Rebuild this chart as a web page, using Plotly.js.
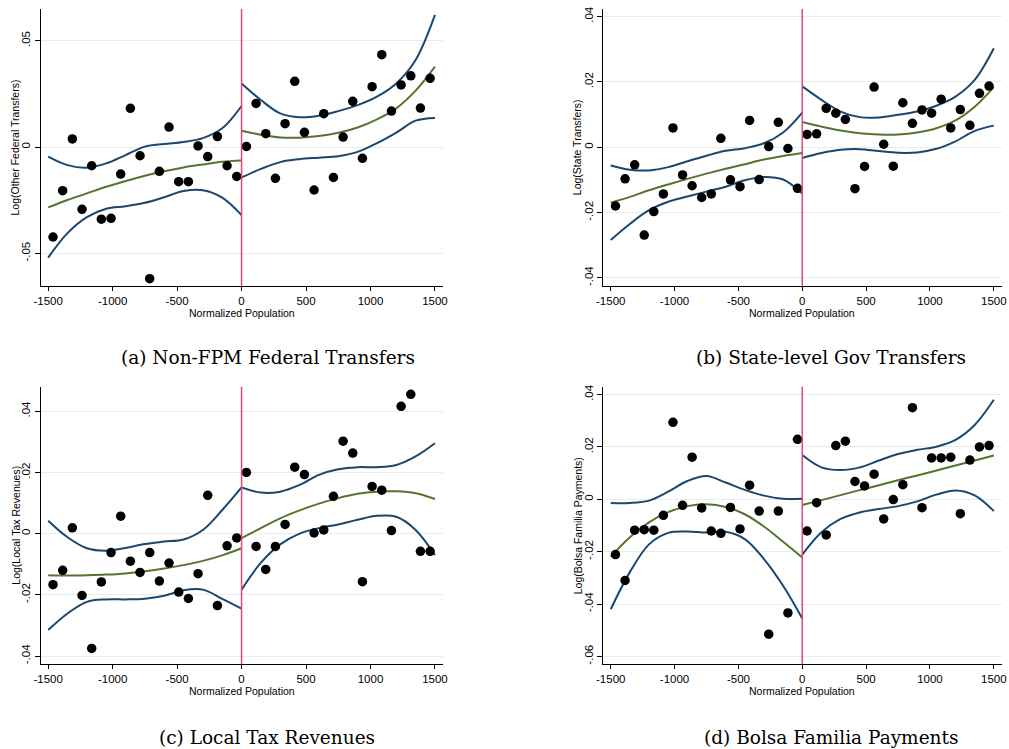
<!DOCTYPE html>
<html>
<head>
<meta charset="utf-8">
<script src="https://cdn.plot.ly/plotly-3.0.1.min.js"></script>
<style>html,body{margin:0;padding:0;background:#fff;}#chart{width:1009px;height:749px;}</style>
</head>
<body>
<div id="chart"></div>
<script>
// ---- bins (x) ----
const xBinsLeft = [-1462.5,-1387.5,-1312.5,-1237.5,-1162.5,-1087.5,-1012.5,-937.5,-862.5,-787.5,-712.5,-637.5,-562.5,-487.5,-412.5,-337.5,-262.5,-187.5,-112.5,-37.5];
const xBinsRight = [37.5,112.5,187.5,262.5,337.5,412.5,487.5,562.5,637.5,712.5,787.5,862.5,937.5,1012.5,1087.5,1162.5,1237.5,1312.5,1387.5,1462.5];
const xFitLeft = [-1500,-1350,-1200,-1050,-900,-750,-600,-450,-300,-150,0];
const xFitRight = [0,150,300,450,600,750,900,1050,1200,1350,1500];
const cutoff = 0;

// ---- (a) Non-FPM Federal Transfers ----
const aPtsLeft  = [-0.0423,-0.0205,0.0038,-0.0293,-0.0088,-0.0339,-0.0335,-0.0127,0.0182,-0.0041,-0.0619,-0.0114,0.0094,-0.0163,-0.0163,0.0005,-0.0045,0.0049,-0.0088,-0.0138];
const aPtsRight = [0.0003,0.0205,0.0063,-0.0147,0.0110,0.0309,0.0069,-0.0202,0.0157,-0.0143,0.0047,0.0215,-0.0053,0.0284,0.0434,0.0169,0.0292,0.0335,0.0183,0.0323];
const aFitLeft  = [-0.0284,-0.0249,-0.0218,-0.0187,-0.0160,-0.0135,-0.0114,-0.0096,-0.0082,-0.0069,-0.0063];
const aUpLeft   = [-0.0045,-0.0085,-0.0097,-0.0077,-0.0038,0.0002,0.0014,0.0024,0.0042,0.0088,0.0193];
const aLoLeft   = [-0.0520,-0.0405,-0.0330,-0.0290,-0.0278,-0.0262,-0.0236,-0.0207,-0.0203,-0.0238,-0.0320];
const aFitRight = [0.0077,0.0058,0.0045,0.0044,0.0052,0.0067,0.0092,0.0130,0.0182,0.0265,0.0378];
const aUpRight  = [0.0299,0.0221,0.0158,0.0140,0.0147,0.0169,0.0197,0.0237,0.0299,0.0409,0.0621];
const aLoRight  = [-0.0143,-0.0103,-0.0071,-0.0057,-0.0050,-0.0043,-0.0023,0.0018,0.0068,0.0124,0.0137];

// ---- (b) State-level Gov Transfers ----
const bPtsLeft  = [-0.0180,-0.0097,-0.0054,-0.0269,-0.0197,-0.0143,0.0059,-0.0085,-0.0118,-0.0154,-0.0143,0.0027,-0.0100,-0.0121,0.0082,-0.0099,0.0002,0.0076,-0.0004,-0.0126];
const bPtsRight = [0.0039,0.0041,0.0119,0.0104,0.0085,-0.0127,-0.0059,0.0184,0.0009,-0.0058,0.0136,0.0073,0.0114,0.0104,0.0147,0.0059,0.0115,0.0067,0.0165,0.0187];
const bFitLeft  = [-0.0170,-0.0152,-0.0132,-0.0114,-0.0097,-0.0081,-0.0066,-0.0052,-0.0038,-0.0027,-0.0018];
const bUpLeft   = [-0.0056,-0.0069,-0.0071,-0.0061,-0.0043,-0.0026,-0.0011,-0.0003,0.0012,0.0045,0.0106];
const bLoLeft   = [-0.0284,-0.0235,-0.0193,-0.0167,-0.0151,-0.0136,-0.0121,-0.0101,-0.0091,-0.0099,-0.0142];
const bFitRight = [0.0077,0.0063,0.0051,0.0043,0.0039,0.0039,0.0045,0.0058,0.0082,0.0124,0.0184];
const bUpRight  = [0.0186,0.0145,0.0109,0.0092,0.0091,0.0099,0.0109,0.0127,0.0155,0.0206,0.0303];
const bLoRight  = [-0.0033,-0.0018,-0.0008,-0.0006,-0.0012,-0.0017,-0.0016,-0.0005,0.0018,0.0050,0.0066];

// ---- (c) Local Tax Revenues ----
const cPtsLeft  = [-0.0167,-0.0120,0.0019,-0.0202,-0.0375,-0.0158,-0.0062,0.0057,-0.0090,-0.0127,-0.0062,-0.0155,-0.0096,-0.0191,-0.0212,-0.0131,0.0125,-0.0235,-0.0040,-0.0014];
const cPtsRight = [0.0200,-0.0042,-0.0117,-0.0042,0.0030,0.0217,0.0193,0.0002,0.0012,0.0122,0.0302,0.0263,-0.0157,0.0154,0.0142,0.0010,0.0416,0.0455,-0.0058,-0.0058];
const cFitLeft  = [-0.0136,-0.0137,-0.0136,-0.0134,-0.0130,-0.0123,-0.0114,-0.0103,-0.0089,-0.0071,-0.0048];
const cUpLeft   = [0.0042,-0.0012,-0.0048,-0.0056,-0.0047,-0.0034,-0.0026,-0.0019,0.0012,0.0077,0.0151];
const cLoLeft   = [-0.0315,-0.0261,-0.0223,-0.0215,-0.0215,-0.0213,-0.0203,-0.0185,-0.0183,-0.0213,-0.0245];
const cFitRight = [-0.0015,0.0018,0.0050,0.0076,0.0098,0.0116,0.0130,0.0137,0.0138,0.0132,0.0113];
const cUpRight  = [0.0151,0.0134,0.0137,0.0159,0.0192,0.0210,0.0217,0.0217,0.0224,0.0252,0.0295];
const cLoRight  = [-0.0183,-0.0095,-0.0035,0.0000,0.0018,0.0030,0.0045,0.0058,0.0055,0.0012,-0.0070];

// ---- (d) Bolsa Familia Payments ----
const dPtsLeft  = [-0.0211,-0.0310,-0.0118,-0.0116,-0.0118,-0.0061,0.0294,-0.0023,0.0161,-0.0033,-0.0121,-0.0130,-0.0031,-0.0113,0.0054,-0.0045,-0.0515,-0.0045,-0.0434,0.0229];
const dPtsRight = [-0.0121,-0.0013,-0.0136,0.0205,0.0222,0.0068,0.0051,0.0096,-0.0075,-0.0001,0.0056,0.0350,-0.0032,0.0158,0.0158,0.0161,-0.0055,0.0150,0.0200,0.0205];
const dFitLeft  = [-0.0219,-0.0145,-0.0088,-0.0049,-0.0026,-0.0019,-0.0029,-0.0057,-0.0104,-0.0162,-0.0222];
const dUpLeft   = [-0.0014,-0.0014,-0.0005,0.0029,0.0070,0.0089,0.0064,0.0036,0.0014,0.0002,0.0002];
const dLoLeft   = [-0.0420,-0.0278,-0.0172,-0.0128,-0.0123,-0.0127,-0.0124,-0.0152,-0.0228,-0.0330,-0.0455];
const dFitRight = [-0.0022,-0.0003,0.0016,0.0035,0.0054,0.0073,0.0091,0.0110,0.0129,0.0148,0.0167];
const dUpRight  = [0.0169,0.0122,0.0112,0.0122,0.0148,0.0173,0.0189,0.0201,0.0227,0.0284,0.0380];
const dLoRight  = [-0.0211,-0.0126,-0.0075,-0.0050,-0.0037,-0.0026,-0.0008,0.0018,0.0034,0.0015,-0.0045];

// ---- labels ----
const xTickVals = [-1500,-1000,-500,0,500,1000,1500];
const xTickText = ["-1500","-1000","-500","0","500","1000","1500"];
const xTitle = "Normalized Population";
const yTitles = ["Log(Other Federal Transfers)","Log(State Transfers)","Log(Local Tax Revenues)","Log(Bolsa Familia Payments)"];
const captions = ["(a) Non-FPM Federal Transfers","(b) State-level Gov Transfers","(c) Local Tax Revenues","(d) Bolsa Familia Payments"];
const yTickValsA = [-0.05,0,0.05], yTickTextA = ["-.05","0",".05"];
const yTickValsB = [-0.04,-0.02,0,0.02,0.04], yTickTextB = ["-.04","-.02","0",".02",".04"];
const yTickValsC = [-0.04,-0.02,0,0.02,0.04], yTickTextC = ["-.04","-.02","0",".02",".04"];
const yTickValsD = [-0.06,-0.04,-0.02,0,0.02,0.04], yTickTextD = ["-.06","-.04","-.02","0",".02",".04"];

// ---- styling ----
const NAVY = "#1a476f", GREEN = "#55752f", RED = "#e5467a";
const SANS = "Liberation Sans, Arial, Helvetica, sans-serif";
const W = 1009, H = 749;

const panels = [
  {ax:"", pl:aPtsLeft, pr:aPtsRight, fl:aFitLeft, ul:aUpLeft, ll:aLoLeft, fr:aFitRight, ur:aUpRight, lr:aLoRight,
   xd:[40.7,442.7], yd:[9,285.7], yr:[-0.0652,0.0649], tv:yTickValsA, tt:yTickTextA},
  {ax:"2", pl:bPtsLeft, pr:bPtsRight, fl:bFitLeft, ul:bUpLeft, ll:bLoLeft, fr:bFitRight, ur:bUpRight, lr:bLoRight,
   xd:[603.3,1001.5], yd:[9,285.7], yr:[-0.0424,0.0423], tv:yTickValsB, tt:yTickTextB},
  {ax:"3", pl:cPtsLeft, pr:cPtsRight, fl:cFitLeft, ul:cUpLeft, ll:cLoLeft, fr:cFitRight, ur:cUpRight, lr:cLoRight,
   xd:[40.7,442.7], yd:[386.7,664.3], yr:[-0.0427,0.048], tv:yTickValsC, tt:yTickTextC},
  {ax:"4", pl:dPtsLeft, pr:dPtsRight, fl:dFitLeft, ul:dUpLeft, ll:dLoLeft, fr:dFitRight, ur:dUpRight, lr:dLoRight,
   xd:[603.3,1001.5], yd:[386.7,664.3], yr:[-0.063,0.043], tv:yTickValsD, tt:yTickTextD}
];
const captionPos = [[268,358],[831,358],[267,737],[831,737]];

const traces = [];
const layout = {
  width: W, height: H, margin:{l:0,r:0,t:0,b:0},
  paper_bgcolor:"#fff", plot_bgcolor:"#fff", showlegend:false,
  font:{family:SANS, size:11.5, color:"#000"},
  shapes:[], annotations:[]
};

panels.forEach((p,i)=>{
  const xa = "x"+p.ax, ya = "y"+p.ax;
  const line = (x,y,c)=>({x:x,y:y,xaxis:xa,yaxis:ya,type:"scatter",mode:"lines",
    line:{color:c,width:2,shape:"spline",smoothing:1},hoverinfo:"skip"});
  traces.push(line(xFitLeft,p.ul,NAVY), line(xFitLeft,p.ll,NAVY), line(xFitLeft,p.fl,GREEN));
  traces.push(line(xFitRight,p.ur,NAVY), line(xFitRight,p.lr,NAVY), line(xFitRight,p.fr,GREEN));
  const pts = (x,y)=>({x:x,y:y,xaxis:xa,yaxis:ya,type:"scatter",mode:"markers",
    marker:{color:"#000",size:9.5,line:{width:0}},hoverinfo:"skip"});
  traces.push(pts(xBinsLeft,p.pl), pts(xBinsRight,p.pr));

  const xkey = "xaxis"+p.ax, ykey = "yaxis"+p.ax;
  layout[xkey] = {
    domain:[p.xd[0]/W, p.xd[1]/W], range:[-1558,1560], anchor:ya,
    showgrid:false, zeroline:false, showline:true, linecolor:"#000", linewidth:1,
    ticks:"outside", ticklen:4, tickwidth:1, tickcolor:"#000", ticklabeloverflow:"allow",
    tickvals:xTickVals, ticktext:xTickText, tickfont:{family:SANS,size:11.5,color:"#000"}
  };
  layout[ykey] = {
    domain:[1-p.yd[1]/H, 1-p.yd[0]/H], range:p.yr, anchor:xa,
    showgrid:true, gridcolor:"#e3eef0", gridwidth:1, zeroline:false,
    showline:true, linecolor:"#000", linewidth:1,
    ticks:"outside", ticklen:5, tickwidth:1, tickcolor:"#000",
    tickvals:p.tv, ticktext:p.tt, tickangle:-90, tickfont:{family:SANS,size:11.5,color:"#000"}
  };
  layout.shapes.push({type:"line", xref:xa, yref:ya+" domain", x0:cutoff, x1:cutoff, y0:0, y1:1,
    line:{color:RED,width:1.5}, layer:"above"});
  // axis titles
  layout.annotations.push({xref:"paper",yref:"paper",x:((p.xd[0]+p.xd[1])/2)/W, y:1-(p.yd[1]+27)/H,
    text:xTitle, showarrow:false, xanchor:"center", yanchor:"middle", font:{family:SANS,size:10.5,color:"#000"}});
  layout.annotations.push({xref:"paper",yref:"paper",x:(p.xd[0]-25.5)/W, y:1-((p.yd[0]+p.yd[1])/2)/H,
    text:yTitles[i], textangle:-90, showarrow:false, xanchor:"center", yanchor:"middle", font:{family:SANS,size:10.5,color:"#000"}});
  layout.annotations.push({xref:"paper",yref:"paper",x:captionPos[i][0]/W, y:1-captionPos[i][1]/H,
    text:captions[i], showarrow:false, xanchor:"center", yanchor:"middle",
    font:{family:"DejaVu Serif, Liberation Serif, serif",size:18.5,color:"#000"}});
});

Plotly.newPlot("chart", traces, layout, {displayModeBar:false, staticPlot:true});
</script>
</body>
</html>
